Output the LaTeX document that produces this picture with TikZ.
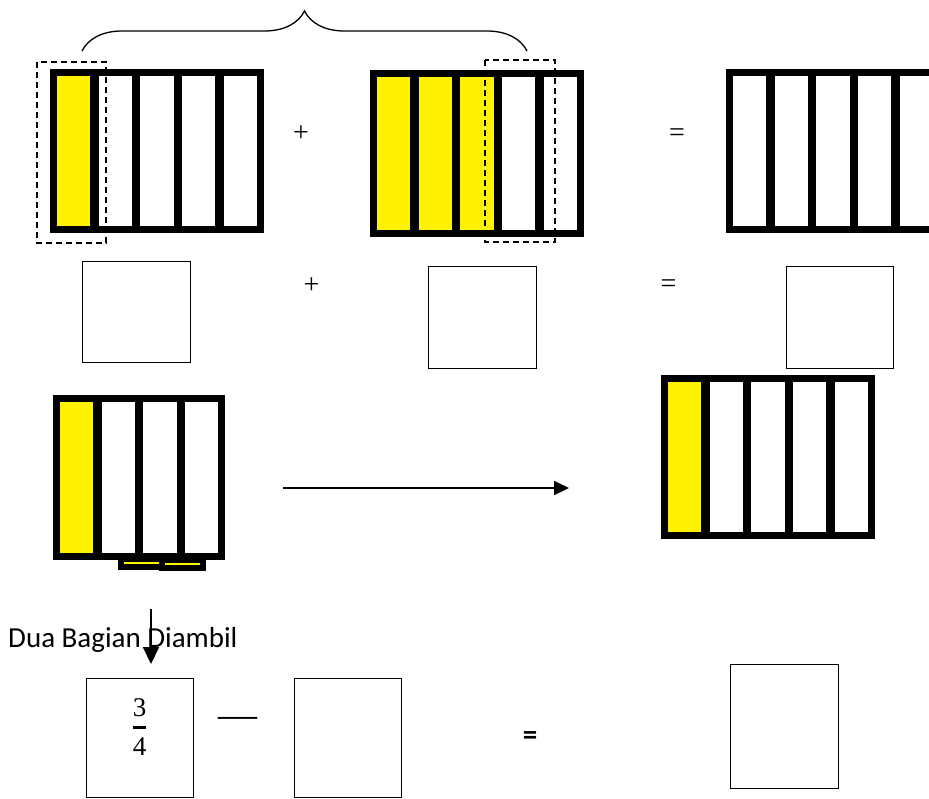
\documentclass[tikz,border=0pt]{standalone}
\usepackage{amsmath}
\usepackage{fontspec}
\setmainfont{Liberation Serif}
\newfontfamily\calibri{Carlito}
\usetikzlibrary{arrows.meta,decorations.pathreplacing}

\tikzset{
  strip/.style={draw=black,line width=7pt},
  box/.style={draw=black,line width=1.3pt,minimum width=#1,inner sep=0pt,anchor=north west},
  dashbox/.style={draw=black,line width=1.3pt,dash pattern=on 6pt off 4pt},
  arr/.style={line width=2pt,-{Triangle[length=15pt,width=14pt]}},
  sign/.style={inner sep=0pt,font=\fontsize{28}{30}\selectfont}
}

\begin{document}
\begin{tikzpicture}[x=1pt,y=-1pt]
  \useasboundingbox (0,0) rectangle (929,798);

  % the two pieces lying under the four-part bar
  \draw[line width=6pt,fill=yellow] (121,559) rectangle (162,567);
  \draw[line width=6pt,fill=yellow] (162,560) rectangle (203,568);

  % fraction bars: corner / strips / yellow strips / height
  \foreach \px/\py/\nn/\ny/\hh in {%
    50/69/5/1/164, 370/70/5/3/167, 726/69/5/0/164,
    53/395/4/1/165, 661/375/5/1/164}
  {
    \begin{scope}[shift={(\px,\py)}]
      \foreach \i in {1,...,\nn} {
        \ifnum\i>\ny \def\col{white}\else\def\col{yellow}\fi
        \draw[strip,fill=\col] ({3.5+(\i-1)*41.7},3.5) rectangle ++(40.2,\hh-7);
      }
    \end{scope}
  }

  \draw[dashbox] (37,62) rectangle (106,243);
  \draw[dashbox] (485,60) rectangle (555,242);
  \draw[line width=1.3pt,decorate,decoration={brace,amplitude=40pt}] (82,51) -- (527,51);

  \node[sign] (plusa) at (301,134) {+};
  \node[sign] (eqa) at (677,135) {=};

  % answer boxes
  \node[box=108pt,minimum height=101pt] (ba) at (82,261) {};
  \node[box=108pt,minimum height=102pt] (bb) at (428,266) {};
  \node[box=107pt,minimum height=102pt] (bc) at (786,266) {};
  \node[sign] (plusb) at (311.5,285.5) {+};
  \node[sign] (eqb) at (668.5,286) {=};

  \coordinate (fa) at (283,488);
  \coordinate (fb) at (569,488);
  \draw[arr] (fa) -- (fb);

  \node[anchor=base west,inner sep=0pt,font=\calibri\fontsize{29}{34}\selectfont] (take) at (8,647) {Dua Bagian Diambil};
  \coordinate (da) at (151,609);
  \coordinate (db) at (151,664);
  \draw[arr,-{Triangle[length=17pt,width=16pt]}] (da) -- (db);

  \node[box=107pt,minimum height=119pt] (bd) at (86,678) {};
  \node[box=107pt,minimum height=119pt] (be) at (294,678) {};
  \node[box=108pt,minimum height=124pt] (bf) at (730,664) {};
  \node[inner sep=0pt,font=\fontsize{27}{30}\selectfont] (frac) at (139.5,727) {$\genfrac{}{}{3pt}{0}{\text{3}}{\text{4}}$};
  \node[inner sep=0pt,font=\fontsize{39}{40}\selectfont] (minus) at (237.5,722) {—};
  \node[inner sep=0pt,font=\calibri\bfseries\fontsize{29}{30}\selectfont] (eqc) at (530,738) {=};
\end{tikzpicture}
\end{document}
